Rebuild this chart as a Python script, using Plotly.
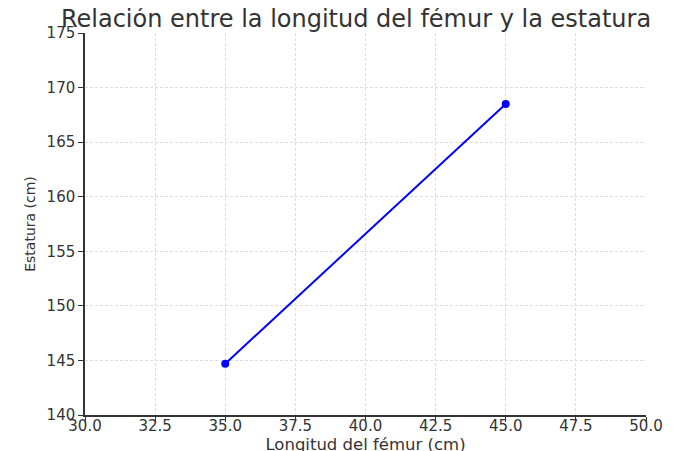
import plotly.graph_objects as go

femur = [35, 45]
estatura = [144.7, 168.5]
x_ticks = [30.0, 32.5, 35.0, 37.5, 40.0, 42.5, 45.0, 47.5, 50.0]
y_ticks = [140, 145, 150, 155, 160, 165, 170, 175]

fig = go.Figure()
fig.add_trace(go.Scatter(
    x=femur, y=estatura, mode="lines+markers",
    line=dict(color="#0000ff", width=2),
    marker=dict(color="#0000ff", size=8),
    showlegend=False,
))

font = "DejaVu Sans, sans-serif"
fig.update_layout(
    width=696, height=451,
    margin=dict(l=77, r=58, t=25, b=44),
    paper_bgcolor="white", plot_bgcolor="white",
    font=dict(family=font, color="#333333", size=15),
    title=dict(text="Relación entre la longitud del fémur y la estatura",
               x=0.50, xanchor="center", xref="container",
               y=0.976, yanchor="middle", yref="container",
               font=dict(family=font, size=24, color="#333333")),
)
fig.update_xaxes(
    range=[30, 50], tickvals=x_ticks, ticktext=[f"{v:.1f}" for v in x_ticks],
    showgrid=True, gridcolor="#dcdcdc", griddash="3px,2px", gridwidth=1,
    showline=True, linecolor="#333333", linewidth=1.5,
    ticks="outside", ticklen=5, tickcolor="#333333",
    zeroline=False, automargin=False, ticklabelstandoff=-9,
    title=dict(text="Longitud del fémur (cm)", standoff=0,
               font=dict(family=font, size=16.5, color="#333333")),
    tickfont=dict(size=15),
)
fig.update_yaxes(
    range=[140, 175], tickvals=y_ticks,
    showgrid=True, gridcolor="#dcdcdc", griddash="3px,2px", gridwidth=1,
    showline=True, linecolor="#333333", linewidth=1.5,
    ticks="outside", ticklen=5, tickcolor="#333333",
    zeroline=False, automargin=False,
    title=dict(text="Estatura (cm)", standoff=8,
               font=dict(family=font, size=14, color="#333333")),
    tickfont=dict(size=15),
)

fig.write_html("out.html")
